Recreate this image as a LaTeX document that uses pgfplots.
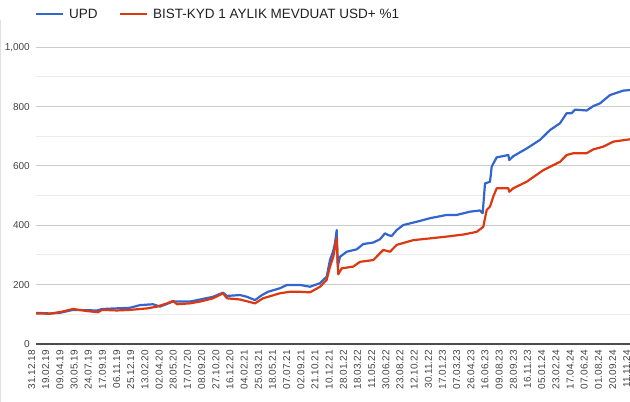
\documentclass[border=0pt]{standalone}
\usepackage{fontspec}
\setmainfont{Liberation Sans}
\usepackage{pgfplots}
\pgfplotsset{compat=1.18}
\definecolor{gblue}{HTML}{3366CC}
\definecolor{gred}{HTML}{DC3912}
\definecolor{lab}{HTML}{444444}
\begin{document}
\begin{tikzpicture}[x=1pt,y=1pt]
\useasboundingbox (0,0) rectangle (630,402);
\clip (0,0) rectangle (630,402);
\fill[white] (0,0) rectangle (630,402);
\draw[black!12, line width=1pt] (0.5,0) -- (0.5,382);
\begin{axis}[
  at={(36pt,58pt)}, anchor=south west,
  scale only axis, width=596pt, height=296.7pt,
  xmin=36, xmax=632, ymin=0, ymax=1000,
  axis x line*=bottom, axis y line*=left,
  x axis line style={draw=black!70, line width=1.4pt, -},
  y axis line style={draw=none},
  tick style={draw=none},
  ytick={0,200,400,600,800,1000},
  yticklabels={0,200,400,600,800,{1,000}},
  minor y tick num=1,
  ymajorgrids, yminorgrids,
  major grid style={draw=black!20, line width=1pt},
  minor grid style={draw=black!8, line width=1pt},
  yticklabel style={font=\fontsize{10}{12}\selectfont, text=lab, inner sep=0pt, anchor=east, xshift=-6pt},
  xtick={36,50.17,...,632},
  xticklabels={31.12.18,19.02.19,09.04.19,30.05.19,24.07.19,17.09.19,06.11.19,25.12.19,13.02.20,02.04.20,28.05.20,17.07.20,08.09.20,27.10.20,16.12.20,04.02.21,25.03.21,18.05.21,07.07.21,02.09.21,21.10.21,10.12.21,28.01.22,18.03.22,11.05.22,30.06.22,23.08.22,12.10.22,30.11.22,17.01.23,07.03.23,26.04.23,16.06.23,09.08.23,28.09.23,16.11.23,05.01.24,23.02.24,17.04.24,07.06.24,01.08.24,20.09.24,11.11.24},
  xticklabel style={xshift=-4.4pt, yshift=-6pt, rotate=90, anchor=east, inner sep=0pt, font=\fontsize{10}{12}\selectfont, text=lab},
]
\addplot[gblue, line width=2.2pt, line join=round] coordinates {
(36,105)(50,103)(60,105)(73,115)(97,113)(102,118)(130,122)(140,131)(153,134)(160,126)(173,143)(190,143)(200,150)(213,159)(223,173)(227,162)(240,165)(247,159)(255,148)(262,165)(268,176)(280,188)(287,199)(300,199)(310,193)(320,205)(326.7,227)(330,283)(333,311)(335,340)(336.7,384)(337.7,261)(340,294)(346.7,311)(356.7,319)(363.3,337)(373.3,342)(380,353)(385,373)(388.3,367)(391.7,364)(396.7,384)(403.3,401)(416.7,412)(430,424)(446.7,435)(456.7,435)(470,446)(480,450)(482.7,441)(485,541)(490,547)(491.7,598)(493.3,608)(496.7,629)(508.3,637)(509.3,620)(513.3,633)(526.7,659)(540,688)(550,721)(560,744)(566.7,778)(571.7,778)(575,790)(586.7,787)(593.3,802)(600,811)(610,839)(623.3,854)(630,856)
};
\addplot[gred, line width=2.2pt, line join=round] coordinates {
(36,103)(50,102)(62,109)(73,118)(87,111)(98,107)(102,115)(117,113)(130,115)(147,120)(157,126)(167,137)(173,145)(177,134)(190,137)(200,143)(213,154)(223,171)(227,154)(240,150)(255,137)(263,154)(280,171)(290,176)(300,176)(310,174)(320,193)(326.7,216)(330,261)(333.3,294)(336.7,356)(338.3,235)(341.7,255)(353.3,261)(360,277)(373.3,283)(383.3,317)(390,311)(396.7,334)(413.3,350)(430,356)(446.7,362)(463.3,369)(476.7,378)(483.3,395)(486.7,452)(490,463)(493.3,497)(496.7,525)(508.3,525)(509.3,513)(513.3,525)(526.7,547)(543.3,586)(560,614)(566.7,637)(573.3,643)(586.7,643)(593.3,656)(603.3,665)(613.3,682)(630,690)
};
\end{axis}
\draw[gblue, line width=2.2pt] (36,388) -- (63,388);
\node[anchor=base west, inner sep=0pt, font=\fontsize{13.5}{16}\selectfont, text=black!87] at (69,383) {UPD};
\draw[gred, line width=2.2pt] (120,388) -- (147,388);
\node[anchor=base west, inner sep=0pt, font=\fontsize{13.5}{16}\selectfont, text=black!87] at (153,383) {BIST-KYD 1 AYLIK MEVDUAT USD+ \%1};
\end{tikzpicture}
\end{document}
